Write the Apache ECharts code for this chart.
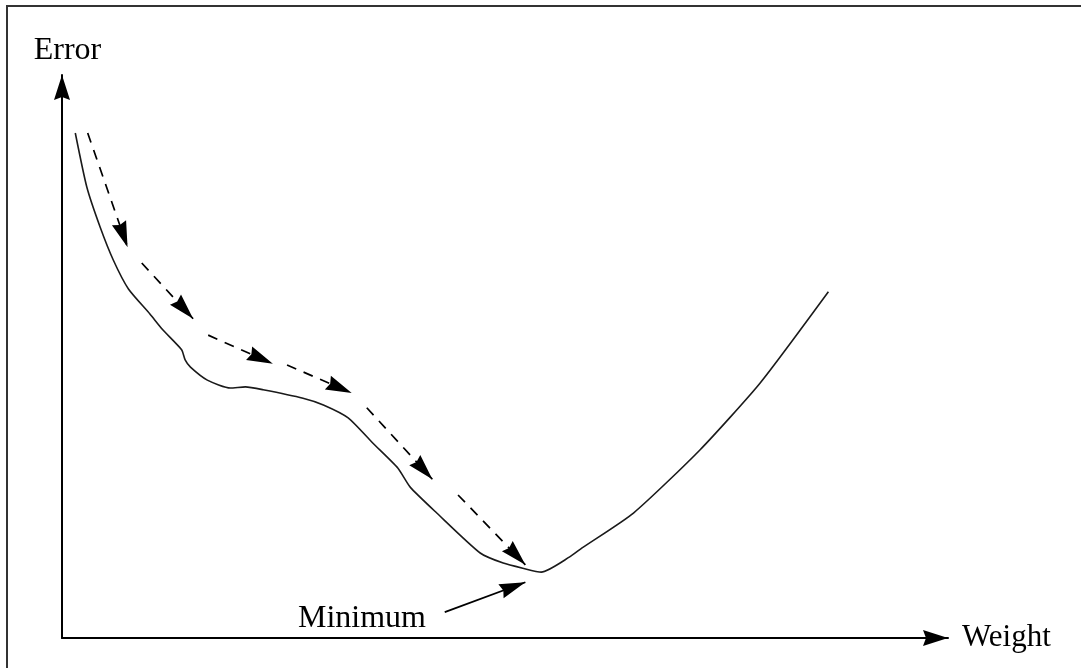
<!DOCTYPE html>
<html>
<head>
<meta charset="utf-8">
<script src="https://cdn.jsdelivr.net/npm/echarts@6/dist/echarts.min.js"></script>
<style>
html,body{margin:0;padding:0;background:#fff;}
#chart{width:1081px;height:668px;}
</style>
</head>
<body>
<div id="chart"></div>
<script>
// Error curve (schematic units: weight 0-100, error 0-100)
const curveWeight = [1.5, 2.8, 4.3, 5.8, 7.5, 9.9, 11.4, 13.5, 13.9, 14.5, 16.4, 19.0, 20.7, 22.7, 27.2, 29.5, 32.3, 35.1, 37.9, 39.3, 42.3, 47.2, 49.8, 52.0, 54.1, 57.3, 58.7, 64.5, 72.0, 78.8, 86.5];
const curveError  = [89.7, 80.1, 73.0, 67.1, 62.0, 57.6, 54.7, 51.2, 49.4, 48.1, 45.8, 44.4, 44.6, 44.1, 42.6, 41.4, 39.1, 34.6, 30.2, 26.8, 22.2, 15.1, 13.3, 12.4, 11.7, 14.4, 16.0, 22.2, 33.4, 45.3, 61.5];

// Gradient descent steps (dashed arrows): start and end points
const stepFromW = [2.9, 9.0, 16.5, 25.4, 34.4, 44.7];
const stepFromE = [89.7, 66.6, 53.8, 48.5, 40.9, 25.4];
const stepToW   = [7.4, 14.8, 23.8, 32.7, 41.8, 52.3];
const stepToE   = [69.4, 56.7, 48.7, 43.5, 28.2, 13.0];

// "Minimum" annotation arrow
const minArrowFrom = [43.2, 4.6];
const minArrowTo   = [52.3, 9.9];

const axisNames = { x: 'Weight', y: 'Error' };
const minLabel = 'Minimum';

const FONT = '"Liberation Serif", "Times New Roman", serif';
// arrowhead with tip in the middle of its (square) box so the tip lands on the end point
const headPath = 'path://M26,26 L33.5,52 L26,49.5 L18.5,52 Z M0,0 L0,0 M52,52 L52,52';
const axisHead = 'path://M8,0 L16,25 L8,22 L0,25 Z';

const curveData = curveWeight.map((w, i) => [w, curveError[i]]);
const stepData = stepFromW.map((w, i) => ({ coords: [[w, stepFromE[i]], [stepToW[i], stepToE[i]]] }));

const chart = echarts.init(document.getElementById('chart'), null, { renderer: 'canvas' });
chart.setOption({
  backgroundColor: '#ffffff',
  animation: false,
  grid: { left: 62, right: 133, top: 75, bottom: 30 },
  xAxis: {
    type: 'value', min: 0, max: 100,
    name: axisNames.x, nameLocation: 'end', nameGap: 14,
    nameTextStyle: { fontFamily: FONT, fontSize: 31, color: '#000', padding: [0, 0, 16, 0] },
    axisLine: { show: true, onZero: false, symbol: ['none', axisHead], symbolSize: [16, 25], symbolOffset: [0, -12.5],
      lineStyle: { color: '#000', width: 2 } },
    axisTick: { show: false }, axisLabel: { show: false }, splitLine: { show: false }
  },
  yAxis: {
    type: 'value', min: 0, max: 100,
    name: axisNames.y, nameLocation: 'end', nameGap: 8,
    nameTextStyle: { fontFamily: FONT, fontSize: 32, color: '#000', padding: [0, 0, 0, 11] },
    axisLine: { show: true, onZero: false, symbol: ['none', axisHead], symbolSize: [16, 25], symbolOffset: [0, -12.5],
      lineStyle: { color: '#000', width: 2 } },
    axisTick: { show: false }, axisLabel: { show: false }, splitLine: { show: false }
  },
  series: [
    {
      type: 'line', data: curveData, smooth: 0.2, showSymbol: false, silent: true,
      lineStyle: { color: '#1a1a1a', width: 1.6 }
    },
    {
      type: 'lines', coordinateSystem: 'cartesian2d', silent: true,
      symbol: ['none', headPath], symbolSize: 52,
      lineStyle: { color: '#000', width: 1.7, type: [10, 8], opacity: 1 },
      data: stepData
    },
    {
      type: 'lines', coordinateSystem: 'cartesian2d', silent: true,
      symbol: ['none', headPath], symbolSize: 52,
      lineStyle: { color: '#000', width: 1.7, type: 'solid', opacity: 1 },
      label: { show: true, position: 'start', distance: 20, formatter: minLabel,
        fontFamily: FONT, fontSize: 32, color: '#000', padding: [0, 0, 12, 0] },
      data: [{ coords: [minArrowFrom, minArrowTo] }]
    }
  ],
  graphic: [
    { type: 'polyline', silent: true, shape: { points: [[7, 668], [7, 6], [1081, 6]] },
      style: { stroke: '#333', lineWidth: 2, fill: null } }
  ]
});
</script>
</body>
</html>
